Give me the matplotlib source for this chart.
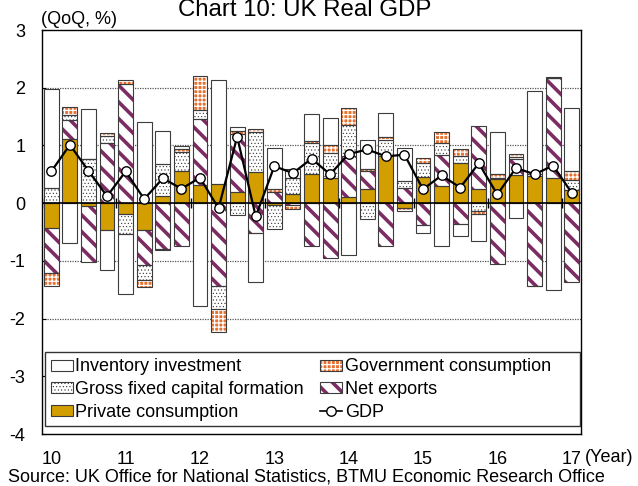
import numpy as np
import matplotlib
matplotlib.use("Agg")
import matplotlib.pyplot as plt
from matplotlib.lines import Line2D
from matplotlib.patches import Patch, Rectangle

plt.rcParams['font.family'] = ['Liberation Sans', 'DejaVu Sans']
plt.rcParams['font.size'] = 13
plt.rcParams['axes.unicode_minus'] = False

# quarterly contributions to UK real GDP growth, 2010Q1 - 2017Q1 (%pt)
year_labels = ['10', '11', '12', '13', '14', '15', '16', '17']
private_cons = [-0.43, 1.12, -0.05, -0.46, -0.18, -0.47, 0.13, 0.56,
                0.31, 0.33, 0.19, 0.54, -0.04, 0.16, 0.50, 0.44,
                0.11, 0.24, 0.81, -0.08, 0.46, 0.29, 0.69, 0.25,
                0.42, 0.48, 0.47, 0.44, 0.22]
net_exports = [-0.78, 0.32, -0.97, 1.04, 2.06, -0.60, -0.80, -0.75,
               1.14, -1.43, 1.01, -0.52, 0.19, -0.04, -0.74, -0.95,
               0.70, 0.32, -0.74, 0.27, -0.38, 0.54, -0.36, 1.08,
               -1.06, 0.28, -1.43, 1.73, -1.37]
gfcf = [0.26, 0.09, 0.77, 0.13, -0.36, -0.26, 0.55, 0.32,
        0.16, -0.40, -0.21, 0.70, -0.41, 0.28, 0.54, 0.43,
        0.55, -0.27, 0.29, 0.11, 0.24, 0.21, 0.13, -0.14,
        0.02, 0.04, 0.04, 0.00, 0.18]
gov_cons = [-0.23, 0.13, 0.00, 0.05, 0.07, -0.12, -0.02, 0.05,
            0.60, -0.40, 0.05, 0.05, 0.05, -0.07, 0.03, 0.14,
            0.29, 0.04, 0.05, -0.05, 0.08, 0.19, 0.12, -0.04,
            0.07, 0.05, -0.01, 0.02, 0.15]
inventory = [1.71, -0.69, 0.86, -0.69, -1.03, 1.41, 0.57, 0.06,
             -1.78, 1.80, 0.07, -0.84, 0.72, 0.15, 0.47, 0.47,
             -0.90, 0.50, 0.41, 0.58, -0.13, -0.74, -0.21, -0.47,
             0.72, -0.25, 1.44, -1.50, 1.10]
gdp = [0.55, 1.01, 0.56, 0.12, 0.55, 0.07, 0.43, 0.25,
       0.44, -0.09, 1.15, -0.23, 0.64, 0.52, 0.77, 0.50,
       0.85, 0.93, 0.81, 0.84, 0.24, 0.48, 0.27, 0.69,
       0.15, 0.61, 0.50, 0.65, 0.18]

x = np.arange(len(gdp))


def hatch_lw(artist, lw):
    # hatch line width may be read from rcParams at draw time, so wrap draw()
    if hasattr(artist, 'set_hatch_linewidth'):
        artist.set_hatch_linewidth(lw)
    orig = artist.draw

    def draw(renderer, *a, **k):
        with plt.rc_context({'hatch.linewidth': lw}):
            return orig(renderer, *a, **k)
    artist.draw = draw


fig = plt.figure(figsize=(6.38, 4.86), dpi=100)
ax = fig.add_axes([42/638, 1-434/486, 539/638, 404/486])

# series in stacking order: (label, values, face, hatch colour, hatch, hatch lw)
series = [
    ('Private consumption', private_cons, '#D39E00', '#D39E00', None, 1.0),
    ('Net exports', net_exports, 'white', '#7B2C62', '\\\\', 2.6),
    ('Gross fixed capital formation', gfcf, 'white', '#333333', '.....', 0.4),
    ('Government consumption', gov_cons, '#E8702E', 'white', '++++', 0.9),
    ('Inventory investment', inventory, 'white', 'white', None, 1.0),
]

pos_bot = np.zeros(len(x))
neg_bot = np.zeros(len(x))
handles = {}
hatch_widths = {}
for name, vals, face, hcol, hatch, hlw in series:
    v = np.array(vals)
    bot = np.where(v >= 0, pos_bot, neg_bot)
    fill = ax.bar(x, v, 0.8, bottom=bot, color=face, edgecolor=hcol,
                  hatch=hatch, linewidth=0, zorder=2)
    for p in fill:
        hatch_lw(p, hlw)
    ax.bar(x, v, 0.8, bottom=bot, fill=False, edgecolor='#3c3c3c',
           linewidth=0.8, zorder=3)
    pos_bot = pos_bot + np.where(v >= 0, v, 0)
    neg_bot = neg_bot + np.where(v < 0, v, 0)
    handles[name] = (Patch(facecolor=face, edgecolor=hcol, hatch=hatch, linewidth=0),
                     Patch(fill=False, edgecolor='#3c3c3c', linewidth=0.8))
    if hatch:
        hatch_widths[hatch] = hlw

ax.axhline(0, color='black', lw=1.2, zorder=4)
# year separators on the zero line
ax.plot(np.arange(-0.5, len(x), 4), np.zeros(len(year_labels)), ls='none',
        marker='|', ms=6.5, mew=1, color='black', zorder=4)

ax.plot(x, gdp, color='black', lw=1.6, marker='o', ms=6.8, mfc='white',
        mec='black', mew=1, zorder=5)
gdp_handle = Line2D([], [], color='black', lw=1.2, marker='o', ms=6.8,
                    mfc='white', mec='black', mew=1)

for yv in [-3, -2, -1, 1, 2]:
    ax.axhline(yv, color='#555555', lw=0.9, ls=(0, (1, 1)), zorder=1)

ax.set_xlim(-0.5, len(x) - 0.5)
ax.set_ylim(-4, 3)
ax.set_yticks(range(-4, 4))
ax.tick_params(axis='y', direction='in', length=3, pad=12, labelsize=13)
ax.set_xticks(x[::4])
ax.set_xticklabels(year_labels)
ax.tick_params(axis='x', length=0, pad=12, labelsize=13)
for s in ax.spines.values():
    s.set_linewidth(1.0)

# legend box
ax.add_patch(Rectangle((0.0056, 0.02), 0.992, 0.183, transform=ax.transAxes,
                       facecolor='white', edgecolor='#333333', lw=1, zorder=6))
order = ['Inventory investment', 'Gross fixed capital formation',
         'Private consumption', 'Government consumption', 'Net exports']
hl = [handles[n] for n in order] + [gdp_handle]
lab = order + ['GDP']
leg = ax.legend(hl, lab, ncol=2, loc='upper left', bbox_to_anchor=(0.016, 0.187),
                frameon=False, borderpad=0, borderaxespad=0, handlelength=1.22,
                handleheight=0.55, handletextpad=0.15, labelspacing=0.32,
                columnspacing=0.9, fontsize=13)
leg.set_zorder(7)
for art in leg.findobj(Patch):
    if art.get_hatch() in hatch_widths:
        hatch_lw(art, hatch_widths[art.get_hatch()])

fig.text(305/638, 1-16/486, 'Chart 10: UK Real GDP', fontsize=17.3,
         ha='center', va='baseline')
fig.text(41/638, 1-20/486, '(QoQ, %)', ha='left', va='center', fontsize=13)
fig.text(585/638, 1-457/486, '(Year)', ha='left', va='center', fontsize=13)
fig.text(8/638, 1-477/486,
         'Source: UK Office for National Statistics, BTMU Economic Research Office',
         ha='left', va='center', fontsize=13)

fig.savefig('out.png', dpi=100)
